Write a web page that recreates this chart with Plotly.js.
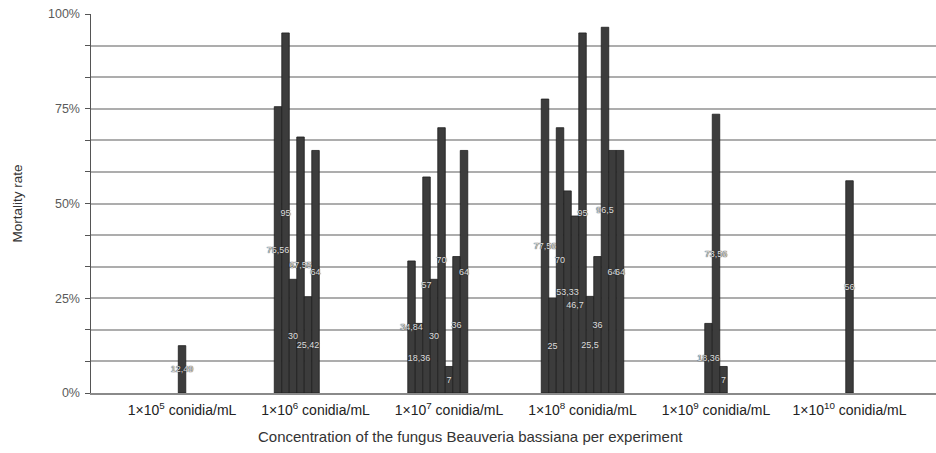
<!DOCTYPE html>
<html>
<head>
<meta charset="utf-8">
<script src="https://cdn.plot.ly/plotly-3.0.1.min.js"></script>
<style>
  html, body { margin: 0; padding: 0; background: #ffffff; }
  #chart { width: 936px; height: 453px; }
</style>
</head>
<body>
<div id="chart"></div>
<script>
// Categories (x axis)
const categories = [
  '1×10<sup>5</sup> conidia/mL',
  '1×10<sup>6</sup> conidia/mL',
  '1×10<sup>7</sup> conidia/mL',
  '1×10<sup>8</sup> conidia/mL',
  '1×10<sup>9</sup> conidia/mL',
  '1×10<sup>10</sup> conidia/mL'
];

// Mortality rate (%) per series, one value per category (null = no bar)
const series01 = [null, 75.56, 34.84, 77.56, null, null];
const series02 = [null, 95, 18.36, 25, null, null];
const series03 = [null, 30, 57, 70, null, null];
const series04 = [null, 67.55, 30, 53.33, null, null];
const series05 = [null, 25.42, 70, 46.7, 18.36, null];
const series06 = [12.49, 64, 7, 95, 73.56, 56];
const series07 = [null, null, 36, 25.5, 7, null];
const series08 = [null, null, 64, 36, null, null];
const series09 = [null, null, null, 96.5, null, null];
const series10 = [null, null, null, 64, null, null];
const series11 = [null, null, null, 64, null, null];

const allSeries = [series01, series02, series03, series04, series05, series06,
                   series07, series08, series09, series10, series11];

// Y ticks: a gridline every 1/12, labels every 25%
const yTickText = ['0%', '', '', '25%', '', '', '50%', '', '', '75%', '', '', '100%'];
const yTickVals = yTickText.map((t, i) => i * 100 / 12);

const FONT = 'Liberation Sans, Arial, sans-serif';

// Solid bars
const barTraces = allSeries.map((vals, i) => ({
  type: 'bar',
  x: categories,
  y: vals,
  name: 'Experiment ' + (i + 1),
  offsetgroup: 'g' + i,
  marker: { color: '#3c3c3c', line: { color: '#1e1e1e', width: 0.8 } },
  hoverinfo: 'x+y'
}));

// Value labels drawn on top of all bars (same slots, transparent fill)
const labelTraces = allSeries.map((vals, i) => ({
  type: 'bar',
  x: categories,
  y: vals,
  name: 'Label ' + (i + 1),
  offsetgroup: 'g' + i,
  text: vals.map(v => v == null ? null : String(v).replace('.', ',')),
  textposition: 'inside',
  insidetextanchor: 'middle',
  constraintext: 'none',
  textangle: 0,
  cliponaxis: false,
  insidetextfont: { family: FONT, size: 9, color: '#dcdcdc', shadow: '0 0 1px #333, 0 0 1px #333' },
  marker: { color: 'rgba(0,0,0,0)', line: { width: 0 } },
  hoverinfo: 'skip'
}));

const layout = {
  width: 936,
  height: 453,
  margin: { l: 91, r: 0, t: 14, b: 60, pad: 0 },
  paper_bgcolor: '#ffffff',
  plot_bgcolor: '#ffffff',
  showlegend: false,
  barmode: 'group',
  bargap: 0.382,
  bargroupgap: 0,
  font: { family: FONT, color: '#333333' },
  xaxis: {
    type: 'category',
    range: [-0.682, 5.648],
    showgrid: false,
    showline: true,
    linecolor: '#8a8a8a',
    linewidth: 1.5,
    ticks: '',
    tickfont: { family: FONT, size: 14, color: '#222222' },
    ticklabelstandoff: 4,
    automargin: false,
    fixedrange: true
  },
  yaxis: {
    range: [0, 100],
    tickmode: 'array',
    tickvals: yTickVals,
    ticktext: yTickText,
    showgrid: true,
    gridcolor: '#adadad',
    gridwidth: 2,
    zeroline: false,
    showline: true,
    linecolor: '#555555',
    linewidth: 1.5,
    ticks: 'outside',
    ticklen: 5,
    tickcolor: '#555555',
    tickfont: { family: FONT, size: 12.5, color: '#5a5a5a' },
    ticklabelstandoff: 2,
    title: { text: 'Mortality rate', font: { family: FONT, size: 13.5, color: '#333333' }, standoff: 22 },
    automargin: false,
    fixedrange: true
  },
  annotations: [{
    text: 'Concentration of the fungus Beauveria bassiana per experiment',
    xref: 'paper', yref: 'paper',
    x: (470 - 91) / 845, y: (393.3 - 437) / 379.3,
    xanchor: 'center', yanchor: 'middle',
    showarrow: false,
    font: { family: FONT, size: 15, color: '#333333' }
  }]
};

Plotly.newPlot('chart', barTraces.concat(labelTraces), layout, { staticPlot: true, displayModeBar: false });
</script>
</body>
</html>
